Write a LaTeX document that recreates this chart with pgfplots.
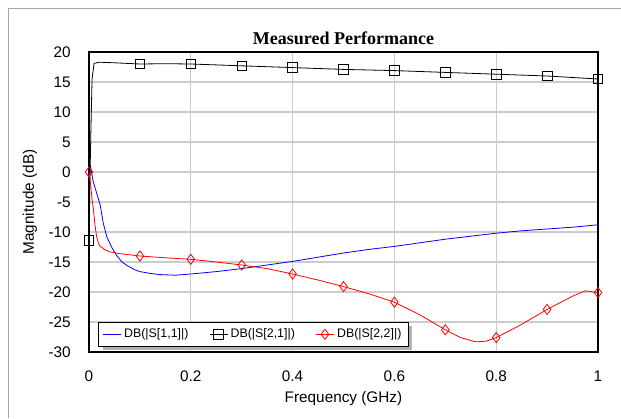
\documentclass[border=0pt]{standalone}
\usepackage{fontspec}
\setmainfont{Liberation Sans}
\newfontfamily\seriffont{Liberation Serif}
\usepackage{pgfplots}
\pgfplotsset{compat=1.18}
\usetikzlibrary{shadows}

\begin{document}
\begin{tikzpicture}
% picture area: 621 x 418 px at 0.75pt per px, axis box starts at px (89,352)
\useasboundingbox (-66.75pt,-49.5pt) rectangle (399pt,264pt);
\draw[gray!70, line width=1pt] (-60.2pt,-49.5pt) -- (-60.2pt,257.5pt) -- (399pt,257.5pt);
\begin{axis}[
  at={(0,0)}, anchor=south west,
  scale only axis, width=381.75pt, height=225pt,
  xmin=0, xmax=1, ymin=-30, ymax=20,
  xtick={0,0.2,...,1}, ytick={-30,-25,...,20},
  major tick length=0pt,
  grid=major,
  major grid style={draw=black!20, line width=0.9pt},
  axis line style={line width=1pt},
  /pgf/number format/assume math mode=true,
  tick label style={font=\fontsize{11.5}{13}\selectfont},
  xticklabel style={anchor=center, yshift=-18pt},
  yticklabel style={anchor=east, inner sep=0pt, xshift=-13.5pt},
  title={Measured Performance},
  title style={font=\seriffont\bfseries\fontsize{13.5}{16}\selectfont, anchor=center, at={(axis description cs:0.5,1)}, yshift=4.5pt},
  xlabel={Frequency (GHz)},
  ylabel={Magnitude (dB)},
  label style={font=\fontsize{11.5}{13}\selectfont},
  xlabel style={at={(axis description cs:0.5,0)}, anchor=center, yshift=-35pt},
  ylabel style={at={(axis description cs:0,0.5)}, anchor=center, yshift=44.25pt},
  legend columns=3,
  legend cell align=left,
  legend style={at={(axis description cs:0,0)}, anchor=south west, xshift=6.75pt, yshift=3.75pt,
    font=\fontsize{9.3}{11}\selectfont, draw, line width=0.8pt, inner ysep=3pt,
    drop shadow={shadow xshift=3pt, shadow yshift=-3pt, fill=gray!60, draw=none, opacity=1},
    /tikz/every even column/.append style={column sep=13.5pt}},
  legend image code/.code={\draw[mark repeat=2, mark phase=2, line width=0.6pt, #1] plot coordinates {(0pt,0pt) (6.75pt,0pt) (13.5pt,0pt)};},
]
% S11
\addplot[blue, line width=0.6pt, forget plot] coordinates {
(0,0) (0.003,0.9) (0.008,-1.5) (0.015,-3.5) (0.022,-5.5) (0.028,-8.5)
(0.035,-10.8) (0.045,-12.6) (0.055,-14.0) (0.065,-15.0) (0.075,-15.6)
(0.09,-16.3) (0.1,-16.6) (0.12,-16.9) (0.14,-17.1) (0.17,-17.2) (0.2,-17.0)
(0.25,-16.6) (0.3,-16.1) (0.35,-15.5) (0.4,-14.9) (0.45,-14.2) (0.5,-13.5)
(0.55,-12.9) (0.6,-12.4) (0.65,-11.8) (0.7,-11.2) (0.75,-10.7) (0.8,-10.2)
(0.85,-9.8) (0.9,-9.5) (0.95,-9.2) (1.0,-8.8)
};
% S21
\addplot[black, line width=0.6pt, forget plot] coordinates {
(0,-11.4) (0.003,4) (0.006,15.5) (0.01,18.1) (0.02,18.3) (0.05,18.2)
(0.1,18.0) (0.15,18.05) (0.2,18.0) (0.3,17.7) (0.4,17.4) (0.5,17.1)
(0.6,16.9) (0.7,16.6) (0.8,16.3) (0.9,16.0) (1.0,15.5)
};
\addplot[black, only marks, mark=square, mark size=3.6pt, mark options={line width=0.6pt}, forget plot] coordinates {
(0,-11.4) (0.1,18.0) (0.2,18.0) (0.3,17.7) (0.4,17.4) (0.5,17.1)
(0.6,16.9) (0.7,16.6) (0.8,16.3) (0.9,16.0) (1.0,15.5)
};
% S22
\addplot[red, line width=0.6pt, forget plot] coordinates {
(0,0) (0.003,-2) (0.006,-4.5) (0.009,-6.5) (0.012,-9) (0.015,-10.8)
(0.02,-12.2) (0.03,-12.9) (0.04,-13.3) (0.06,-13.6) (0.08,-13.8) (0.1,-14.0)
(0.15,-14.3) (0.2,-14.55) (0.25,-15.0) (0.3,-15.5) (0.35,-16.1) (0.4,-17.0)
(0.45,-18.0) (0.5,-19.1) (0.55,-20.3) (0.6,-21.7) (0.65,-23.8) (0.7,-26.3)
(0.73,-27.6) (0.76,-28.3) (0.78,-28.2) (0.8,-27.6) (0.85,-25.4) (0.9,-22.9)
(0.95,-20.7) (0.975,-19.8) (1.0,-20.1)
};
\addplot[red, only marks, mark=diamond, mark size=3.8pt, mark options={line width=0.6pt}, forget plot] coordinates {
(0,0) (0.1,-14.0) (0.2,-14.55) (0.3,-15.5) (0.4,-17.0) (0.5,-19.1)
(0.6,-21.7) (0.7,-26.3) (0.8,-27.6) (0.9,-22.9) (1.0,-20.1)
};
\addlegendimage{legend image code/.code={\draw[draw=blue, line width=0.7pt] (0pt,0pt) -- (13.5pt,0pt);}}
\addlegendentry{DB(|S[1,1]|)}
\addlegendimage{black, mark=square, mark size=3.6pt}
\addlegendentry{DB(|S[2,1]|)}
\addlegendimage{red, mark=diamond, mark size=3.8pt}
\addlegendentry{DB(|S[2,2]|)\hspace{21pt}}
\end{axis}
\end{tikzpicture}
\end{document}
